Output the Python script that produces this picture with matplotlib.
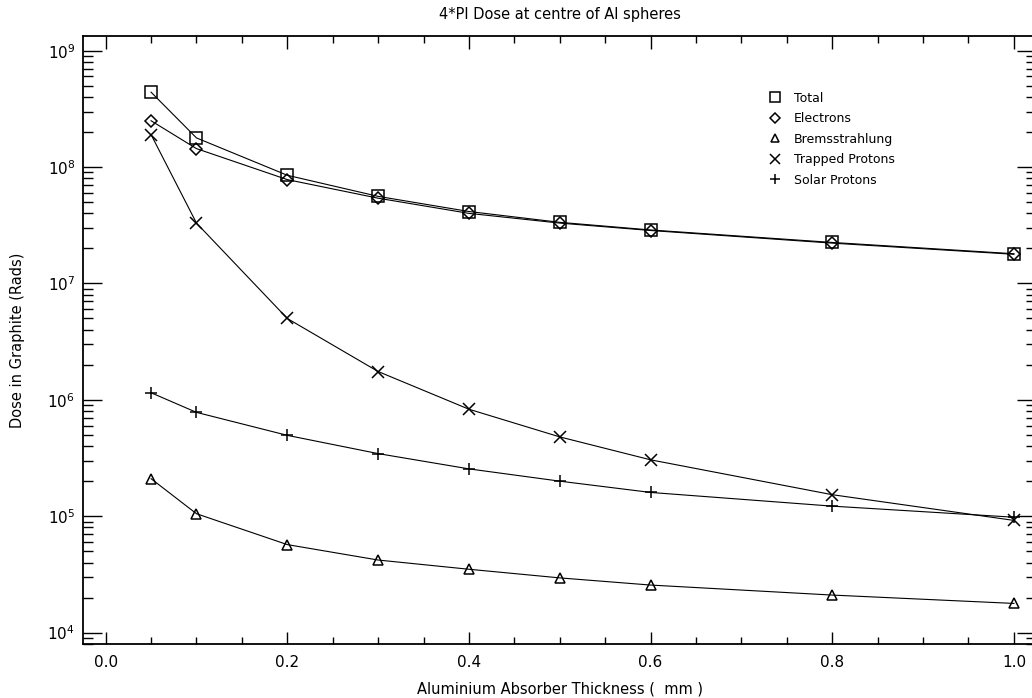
import numpy as np
import matplotlib
matplotlib.use("Agg")
import matplotlib.pyplot as plt
from matplotlib.lines import Line2D
from matplotlib.ticker import LogLocator, MultipleLocator

# Aluminium thickness (mm) and dose values
thickness = [0.05, 0.1, 0.2, 0.3, 0.4, 0.5, 0.6, 0.8, 1.0]
total = [4.4e8, 1.78e8, 8.5e7, 5.6e7, 4.15e7, 3.35e7, 2.88e7, 2.25e7, 1.8e7]
electrons = [2.5e8, 1.44e8, 7.8e7, 5.4e7, 4.0e7, 3.3e7, 2.85e7, 2.22e7, 1.78e7]
bremsstrahlung = [2.1e5, 1.05e5, 5.7e4, 4.2e4, 3.5e4, 2.95e4, 2.56e4, 2.1e4, 1.78e4]
trapped = [1.9e8, 3.3e7, 5.0e6, 1.75e6, 8.3e5, 4.8e5, 3.05e5, 1.53e5, 9.2e4]
solar = [1.15e6, 7.8e5, 4.95e5, 3.45e5, 2.55e5, 2.0e5, 1.6e5, 1.22e5, 9.8e4]

series = [
    ("Total", total, "s", 8.5),
    ("Electrons", electrons, "D", 6.0),
    ("Bremsstrahlung", bremsstrahlung, "^", 7.0),
    ("Trapped Protons", trapped, "x", 8.5),
    ("Solar Protons", solar, "+", 9.0),
]

plt.rcParams['font.family'] = ['DejaVu Sans']

fig = plt.figure(figsize=(10.32, 6.98), dpi=100)
ax = fig.add_axes([0.0809, 0.0769, 0.9234, 0.872])

handles = []
for name, vals, mk, ms in series:
    ax.plot(thickness, vals, color='black', lw=0.8, marker=mk, ms=ms,
            mfc='none', mec='black', mew=1.1)
    handles.append(Line2D([], [], ls='none', marker=mk, ms=ms * 0.8,
                          mfc='none', mec='black', mew=1.1, label=name))

ax.set_yscale('log')
ax.set_xlim(-0.0244, 1.0248)
ax.set_ylim(10 ** 3.899, 10 ** 9.129)

ax.xaxis.set_major_locator(MultipleLocator(0.2))
ax.xaxis.set_minor_locator(MultipleLocator(0.05))
ax.xaxis.set_major_formatter(plt.FuncFormatter(lambda v, p: "%.1f" % v))
ax.yaxis.set_major_locator(LogLocator(base=10, numticks=10))
ax.yaxis.set_minor_locator(LogLocator(base=10, subs=np.arange(2, 10), numticks=20))

ax.tick_params(which='both', direction='in', top=True, right=True, colors='black')
ax.tick_params(axis='y', which='major', length=14, width=1.0, labelsize=11, pad=6)
ax.tick_params(axis='y', which='minor', length=7, width=1.0)
ax.tick_params(axis='x', which='major', length=9, width=1.0, labelsize=11, pad=8)
ax.tick_params(axis='x', which='minor', length=5, width=1.0)
for s in ax.spines.values():
    s.set_linewidth(1.3)

ax.set_title("4*PI Dose at centre of Al spheres", fontsize=10.5, pad=12)
ax.set_xlabel("Aluminium Absorber Thickness (  mm )", fontsize=10.5, labelpad=8)
ax.set_ylabel("Dose in Graphite (Rads)", fontsize=10.5, labelpad=16)

ax.legend(handles=handles, loc='upper left', bbox_to_anchor=(0.713, 0.918),
          frameon=False, fontsize=9, handlelength=1.0, handletextpad=1.0,
          labelspacing=0.6, borderpad=0)

fig.savefig("out.png", dpi=100)
